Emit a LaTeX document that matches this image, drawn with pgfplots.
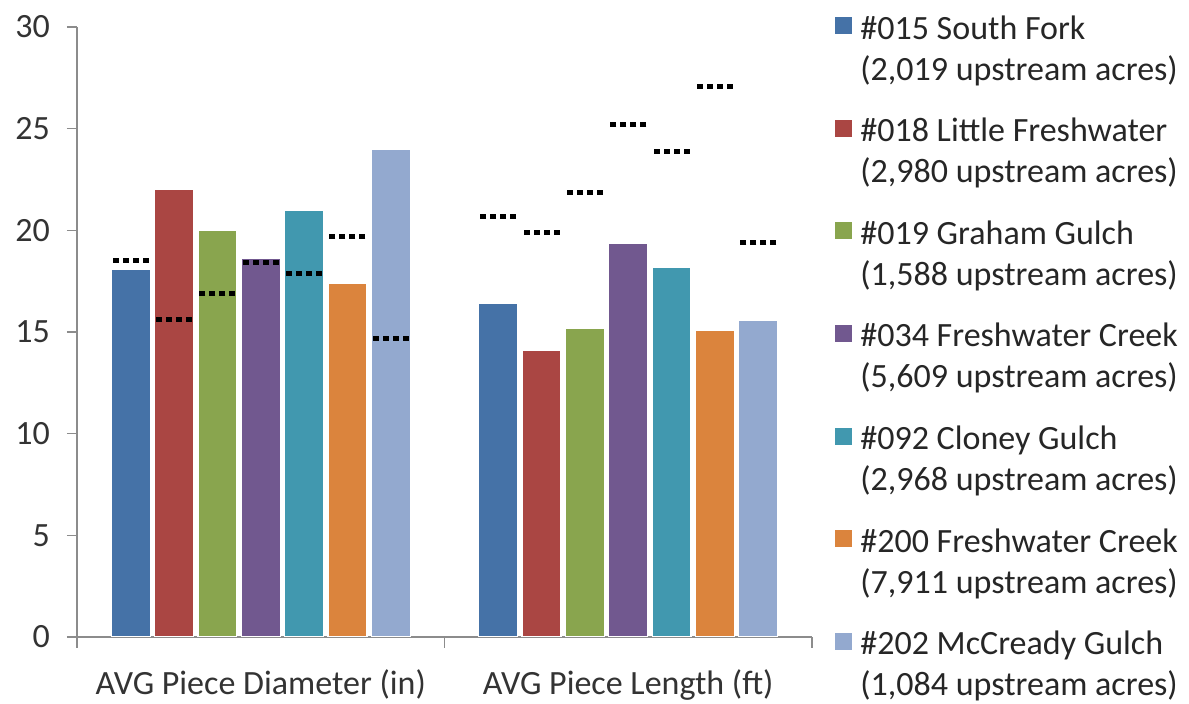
\documentclass[border=0pt]{standalone}
\usepackage{pgfplots}
\pgfplotsset{compat=1.18}
\usepackage{fontspec}
\setmainfont{Carlito}
\definecolor{c1}{HTML}{4572A7}
\definecolor{c2}{HTML}{AA4643}
\definecolor{c3}{HTML}{89A54E}
\definecolor{c4}{HTML}{71588F}
\definecolor{c5}{HTML}{4198AF}
\definecolor{c6}{HTML}{DB843D}
\definecolor{c7}{HTML}{93A9CF}
\definecolor{axgray}{HTML}{8C8C8C}
\begin{document}
\begin{tikzpicture}
\path[use as bounding box] (-38.5pt,-33.5pt) rectangle (556pt,318.5pt);
\begin{axis}[
  at={(0,0)}, anchor=south west,
  scale only axis, width=367.5pt, height=305pt,
  xmin=0.5, xmax=2.5, ymin=0, ymax=30,
  axis x line=bottom, axis y line=left,
  axis line style={-, draw=axgray, line width=0.8pt},
  xtick={1,2},
  xticklabels={AVG Piece Diameter (in), AVG Piece Length (ft)},
  major x tick style={draw=none},
  minor xtick={0.5,1.5,2.5},
  ytick={0,5,10,15,20,25,30},
  tick align=outside,
  major tick length=5pt, minor tick length=5.5pt,
  tick style={draw=axgray, line width=0.8pt},
  ticklabel style={font=\fontsize{17}{20}\selectfont, text=black!80},
  yticklabel style={xshift=-5pt},
  xticklabel style={yshift=-8pt},
  /pgf/number format/assume math mode=true,
  legend image code/.code={\fill[#1, draw=none] (0pt,7.5pt) rectangle (8.5pt,16pt);},
  legend style={at={(1,1)}, anchor=north west, xshift=11.5pt, yshift=8pt,
    draw=none, fill=none, inner sep=0pt, row sep=13.5pt, column sep=2pt,
    font=\fontsize{17}{20.5}\selectfont, text=black!85,
    cells={align=left, anchor=west}},
]
\addplot[ybar, bar width=0.106, bar shift=0pt, fill=c1, draw=white, line width=0.6pt]
  coordinates {(0.646,18.1) (1.646,16.4)};
\addlegendentry{\#015 South Fork\\(2,019 upstream acres)}
\addplot[ybar, bar width=0.106, bar shift=0pt, fill=c2, draw=white, line width=0.6pt]
  coordinates {(0.764,22.0) (1.764,14.1)};
\addlegendentry{\#018 Little Freshwater\\(2,980 upstream acres)}
\addplot[ybar, bar width=0.106, bar shift=0pt, fill=c3, draw=white, line width=0.6pt]
  coordinates {(0.882,20.0) (1.882,15.2)};
\addlegendentry{\#019 Graham Gulch\\(1,588 upstream acres)}
\addplot[ybar, bar width=0.106, bar shift=0pt, fill=c4, draw=white, line width=0.6pt]
  coordinates {(1.000,18.6) (2.000,19.35)};
\addlegendentry{\#034 Freshwater Creek\\(5,609 upstream acres)}
\addplot[ybar, bar width=0.106, bar shift=0pt, fill=c5, draw=white, line width=0.6pt]
  coordinates {(1.118,21.0) (2.118,18.2)};
\addlegendentry{\#092 Cloney Gulch\\(2,968 upstream acres)}
\addplot[ybar, bar width=0.106, bar shift=0pt, fill=c6, draw=white, line width=0.6pt]
  coordinates {(1.236,17.4) (2.236,15.1)};
\addlegendentry{\#200 Freshwater Creek\\(7,911 upstream acres)}
\addplot[ybar, bar width=0.106, bar shift=0pt, fill=c7, draw=white, line width=0.6pt]
  coordinates {(1.354,24.0) (2.354,15.55)};
\addlegendentry{\#202 McCready Gulch\\(1,084 upstream acres)}
% dotted reference markers
\pgfplotsset{dotmark/.style={only marks, mark=-, mark size=9pt, forget plot,
  mark options={draw=black, line width=2.5pt, dash pattern=on 3pt off 2pt}}}
\addplot[dotmark] coordinates {(0.646,18.5) (1.646,20.7)};
\addplot[dotmark] coordinates {(0.764,15.6) (1.764,19.9)};
\addplot[dotmark] coordinates {(0.882,16.9) (1.882,21.85)};
\addplot[dotmark] coordinates {(1.000,18.4) (2.000,25.2)};
\addplot[dotmark] coordinates {(1.118,17.9) (2.118,23.9)};
\addplot[dotmark] coordinates {(1.236,19.7) (2.236,27.05)};
\addplot[dotmark] coordinates {(1.354,14.7) (2.354,19.4)};
\end{axis}
\end{tikzpicture}
\end{document}
